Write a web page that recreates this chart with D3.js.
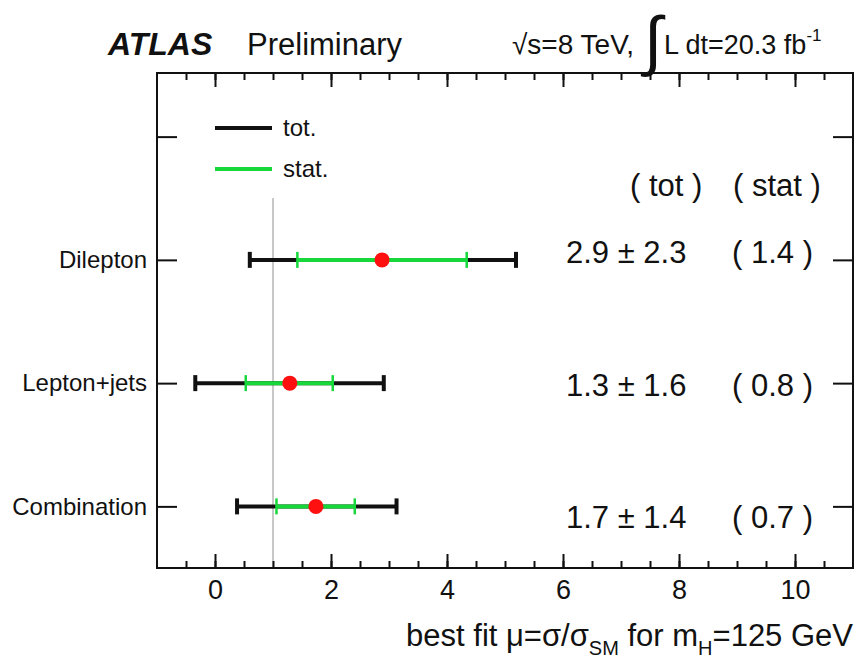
<!DOCTYPE html>
<html>
<head>
<meta charset="utf-8">
<script src="https://cdn.jsdelivr.net/npm/d3@7"></script>
<style>
body { margin: 0; background: #fff; }
text { font-family: "Liberation Sans", Arial, Helvetica, sans-serif; fill: #111; }
</style>
</head>
<body>
<div id="vis"></div>
<script>
const w = 856;
const h = 668;

// values
const channels = ["Dilepton", "Lepton+jets", "Combination"];
const mu = [2.88, 1.29, 1.74];
const totLow = [0.60, -0.34, 0.38];
const totHigh = [5.19, 2.91, 3.13];
const statLow = [1.42, 0.53, 1.06];
const statHigh = [4.34, 2.03, 2.41];
const totLabels = ["2.9 \u00b1 2.3", "1.3 \u00b1 1.6", "1.7 \u00b1 1.4"];
const statLabels = ["( 1.4 )", "( 0.8 )", "( 0.7 )"];
const xTicks = [0, 2, 4, 6, 8, 10];
const xDomain = [-1, 11];
const smValue = 1;

const plot = ({ left: 157, right: 853, top: 73, bottom: 568 });
const green = '#16d83a';

const dataset = channels.map((c, i) => ({
    channel: c,
    mu: mu[i],
    totLow: totLow[i],
    totHigh: totHigh[i],
    statLow: statLow[i],
    statHigh: statHigh[i],
    totLabel: totLabels[i],
    statLabel: statLabels[i]
}));

const svg = d3.select('#vis')
    .append('svg')
    .attr('width', w)
    .attr('height', h);

let xScale = d3.scaleLinear()
    .domain(xDomain)
    .range([plot.left, plot.right]);

// one empty row on top, like the original
let yScale = d3.scalePoint()
    .domain([''].concat(channels))
    .range([plot.top + 2, plot.bottom])
    .padding(0.5);

// the numbers on the right sit on their own rows
let textY = d3.scalePoint()
    .domain(channels)
    .range([263, 528]);

// SM line
svg.append('line')
    .attr('x1', xScale(smValue))
    .attr('x2', xScale(smValue))
    .attr('y1', 198)
    .attr('y2', plot.bottom)
    .attr('stroke', '#c8c8c8')
    .attr('stroke-width', 2);

// axes, ticks pointing inwards
const minorTicks = d3.range(-0.5, 11, 0.5);

function styleAxis(g) {
    g.select('.domain').remove();
    g.selectAll('.tick line').attr('stroke', '#111').attr('stroke-width', 2);
}

svg.append('g')
    .attr('transform', 'translate(0,' + plot.bottom + ')')
    .call(d3.axisBottom(xScale).tickValues(minorTicks).tickSize(-7).tickFormat(''))
    .call(styleAxis);

svg.append('g')
    .attr('class', 'x axis')
    .attr('transform', 'translate(0,' + plot.bottom + ')')
    .call(d3.axisBottom(xScale).tickValues(xTicks).tickSize(-14).tickPadding(10).tickFormat(d3.format('d')))
    .call(styleAxis)
    .selectAll('.tick text')
    .attr('font-size', '27px')
    .attr('font-family', null)
    .attr('dy', '0.78em');

svg.append('g')
    .attr('transform', 'translate(0,' + plot.top + ')')
    .call(d3.axisTop(xScale).tickValues(minorTicks).tickSize(-7).tickFormat(''))
    .call(styleAxis);

svg.append('g')
    .attr('transform', 'translate(0,' + plot.top + ')')
    .call(d3.axisTop(xScale).tickValues(xTicks).tickSize(-14).tickFormat(''))
    .call(styleAxis);

svg.append('g')
    .attr('class', 'y axis')
    .attr('transform', 'translate(' + plot.left + ',0)')
    .call(d3.axisLeft(yScale).tickSize(-20).tickPadding(10))
    .call(styleAxis)
    .selectAll('.tick text')
    .attr('font-size', '24px')
    .attr('font-family', null);

svg.append('g')
    .attr('transform', 'translate(' + plot.right + ',0)')
    .call(d3.axisRight(yScale).tickSize(-20).tickFormat(''))
    .call(styleAxis);

// frame
svg.append('rect')
    .attr('x', plot.left)
    .attr('y', plot.top)
    .attr('width', plot.right - plot.left)
    .attr('height', plot.bottom - plot.top)
    .attr('fill', 'none')
    .attr('stroke', '#111')
    .attr('stroke-width', 2);

// error bars
let rows = svg.selectAll('.row')
    .data(dataset)
    .join('g')
    .attr('class', 'row')
    .attr('transform', d => 'translate(0,' + yScale(d.channel) + ')');

rows.append('line')
    .attr('x1', d => xScale(d.totLow))
    .attr('x2', d => xScale(d.totHigh))
    .attr('stroke', '#111')
    .attr('stroke-width', 4);

rows.selectAll('.totcap')
    .data(d => [d.totLow, d.totHigh])
    .join('line')
    .attr('class', 'totcap')
    .attr('x1', v => xScale(v))
    .attr('x2', v => xScale(v))
    .attr('y1', -8)
    .attr('y2', 8)
    .attr('stroke', '#111')
    .attr('stroke-width', 4);

rows.append('line')
    .attr('x1', d => xScale(d.statLow))
    .attr('x2', d => xScale(d.statHigh))
    .attr('stroke', green)
    .attr('stroke-width', 4);

rows.selectAll('.statcap')
    .data(d => [d.statLow, d.statHigh])
    .join('line')
    .attr('class', 'statcap')
    .attr('x1', v => xScale(v))
    .attr('x2', v => xScale(v))
    .attr('y1', -8)
    .attr('y2', 8)
    .attr('stroke', green)
    .attr('stroke-width', 2.5);

rows.append('circle')
    .attr('cx', d => xScale(d.mu))
    .attr('r', 7.5)
    .attr('fill', '#ff1010');

// numbers on the right
svg.selectAll('.totlabel')
    .data(dataset)
    .join('text')
    .attr('class', 'totlabel')
    .attr('x', 566)
    .attr('y', d => textY(d.channel))
    .attr('font-size', '31px')
    .text(d => d.totLabel);

svg.selectAll('.statlabel')
    .data(dataset)
    .join('text')
    .attr('class', 'statlabel')
    .attr('x', 732)
    .attr('y', d => textY(d.channel))
    .attr('font-size', '31px')
    .text(d => d.statLabel);

svg.append('text')
    .attr('x', 630)
    .attr('y', 196)
    .attr('font-size', '31px')
    .text('( tot )');

svg.append('text')
    .attr('x', 733)
    .attr('y', 196)
    .attr('font-size', '31px')
    .text('( stat )');

// legend
const legend = [{ label: 'tot.', color: '#111', y: 128 }, { label: 'stat.', color: green, y: 169 }];

svg.selectAll('.legline')
    .data(legend)
    .join('line')
    .attr('class', 'legline')
    .attr('x1', 215)
    .attr('x2', 272)
    .attr('y1', d => d.y)
    .attr('y2', d => d.y)
    .attr('stroke', d => d.color)
    .attr('stroke-width', 4);

svg.selectAll('.legtext')
    .data(legend)
    .join('text')
    .attr('class', 'legtext')
    .attr('x', 283)
    .attr('y', d => d.y)
    .attr('dy', '0.35em')
    .attr('font-size', '24px')
    .text(d => d.label);

// header
svg.append('text')
    .attr('x', 108)
    .attr('y', 55)
    .attr('font-size', '32px')
    .attr('font-weight', 'bold')
    .attr('font-style', 'italic')
    .text('ATLAS');

svg.append('text')
    .attr('x', 247)
    .attr('y', 55)
    .attr('font-size', '31px')
    .text('Preliminary');

svg.append('text')
    .attr('x', 512)
    .attr('y', 54)
    .attr('font-size', '28px')
    .text('\u221as=8 TeV,');

svg.append('text')
    .attr('x', 644)
    .attr('y', 63)
    .attr('font-size', '66px')
    .attr('font-family', 'DejaVu Sans')
    .text('\u222b');

let lumi = svg.append('text')
    .attr('x', 664)
    .attr('y', 54)
    .attr('font-size', '27px');
lumi.append('tspan').text('L dt=20.3 fb');
lumi.append('tspan').attr('dy', -13).attr('font-size', '17px').text('-1');

// x title
let xTitle = svg.append('text')
    .attr('x', plot.right)
    .attr('y', 646)
    .attr('text-anchor', 'end')
    .attr('font-size', '31px');
xTitle.append('tspan').text('best fit \u03bc=\u03c3/\u03c3');
xTitle.append('tspan').attr('dy', 9).attr('font-size', '20px').text('SM');
xTitle.append('tspan').attr('dy', -9).text(' for m');
xTitle.append('tspan').attr('dy', 9).attr('font-size', '20px').text('H');
xTitle.append('tspan').attr('dy', -9).text('=125 GeV');
</script>
</body>
</html>
